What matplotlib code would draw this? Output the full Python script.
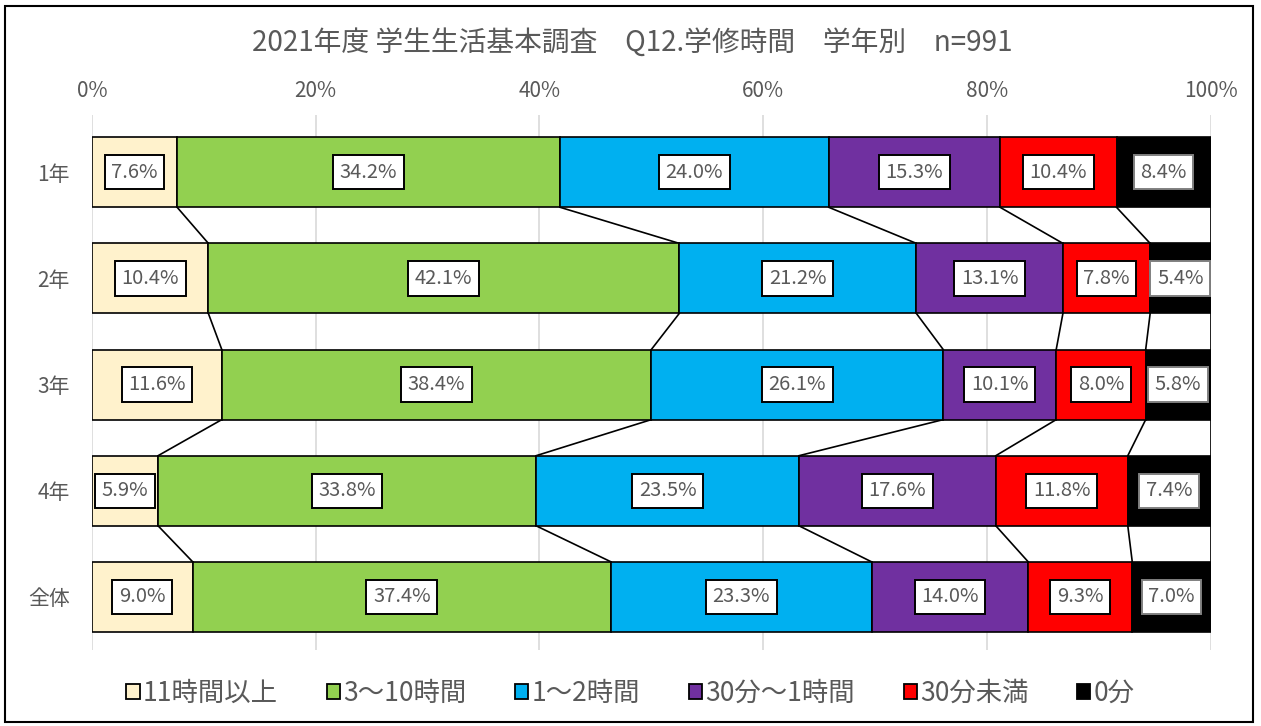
import matplotlib.pyplot as plt
import numpy as np
from matplotlib.patches import Patch, Rectangle

plt.rcParams['font.family'] = ['Noto Sans CJK JP', 'DejaVu Sans']

title = '2021年度 学生生活基本調査　Q12.学修時間　学年別　n=991'
grades = ['1年', '2年', '3年', '4年', '全体']
series_names = ['11時間以上', '3～10時間', '1～2時間', '30分～1時間', '30分未満', '0分']
colors = ['#FFF2CC', '#92D050', '#00B0F0', '#7030A0', '#FF0000', '#000000']

v_11h = [7.6, 10.4, 11.6, 5.9, 9.0]
v_3_10h = [34.2, 42.1, 38.4, 33.8, 37.4]
v_1_2h = [24.0, 21.2, 26.1, 23.5, 23.3]
v_30m_1h = [15.3, 13.1, 10.1, 17.6, 14.0]
v_under30 = [10.4, 7.8, 8.0, 11.8, 9.3]
v_zero = [8.4, 5.4, 5.8, 7.4, 7.0]

values = np.array([v_11h, v_3_10h, v_1_2h, v_30m_1h, v_under30, v_zero])
# each row scaled to 100%
data = values / values.sum(axis=0) * 100

fig = plt.figure(figsize=(12.61, 7.26), dpi=100)
fig.patches.append(Rectangle((0.004, 0.006), 0.99, 0.986, transform=fig.transFigure,
                             fill=False, ec='black', lw=1.5))
ax = fig.add_axes([0.073, 0.1047, 0.887, 0.737])

y = np.arange(len(grades))
h = 0.66
left = np.zeros(len(grades))
cum = []
for k in range(len(series_names)):
    ax.barh(y, data[k], left=left, height=h, color=colors[k], edgecolor='black',
            linewidth=1.2, label=series_names[k], zorder=3)
    for i in range(len(grades)):
        xc = left[i] + data[k][i] / 2
        ec = '#808080' if k == 5 else 'black'
        ax.text(xc, y[i], f'{values[k][i]:.1f}%',
                ha='center', va='center', fontsize=14.5, color='#595959', zorder=5,
                bbox=dict(boxstyle='square,pad=0.33', fc='white', ec=ec, lw=1.4))
    left = left + data[k]
    cum.append(left.copy())

# series lines between bars
for k in range(len(series_names)):
    for i in range(len(grades) - 1):
        ax.plot([cum[k][i], cum[k][i + 1]], [y[i] + h / 2, y[i + 1] - h / 2],
                color='black', lw=1.2, zorder=2)

ax.set_xlim(0, 100)
ax.set_ylim(4.5, -0.54)
ax.set_xticks(np.arange(0, 101, 20))
ax.set_xticklabels([f'{t}%' for t in range(0, 101, 20)])
ax.xaxis.tick_top()
ax.set_yticks(y)
ax.set_yticklabels(grades)
ax.tick_params(length=0, labelsize=15, colors='#595959', pad=16)
ax.tick_params(axis='x', pad=9)
ax.grid(axis='x', color='#D9D9D9', lw=1.2, zorder=0)
for s in ax.spines.values():
    s.set_visible(False)

fig.text(0.501, 0.941, title, ha='center', va='center', fontsize=20, color='#595959')

handles = [Patch(facecolor=c, edgecolor='black', lw=1.3) for c in colors]
fig.legend(handles, series_names, loc='center', bbox_to_anchor=(0.5, 0.045), ncol=6,
           frameon=False, fontsize=19, handlelength=0.5, handleheight=0.55,
           handletextpad=0.12, columnspacing=1.85, labelcolor='#595959')

fig.savefig('out.png', dpi=100)
